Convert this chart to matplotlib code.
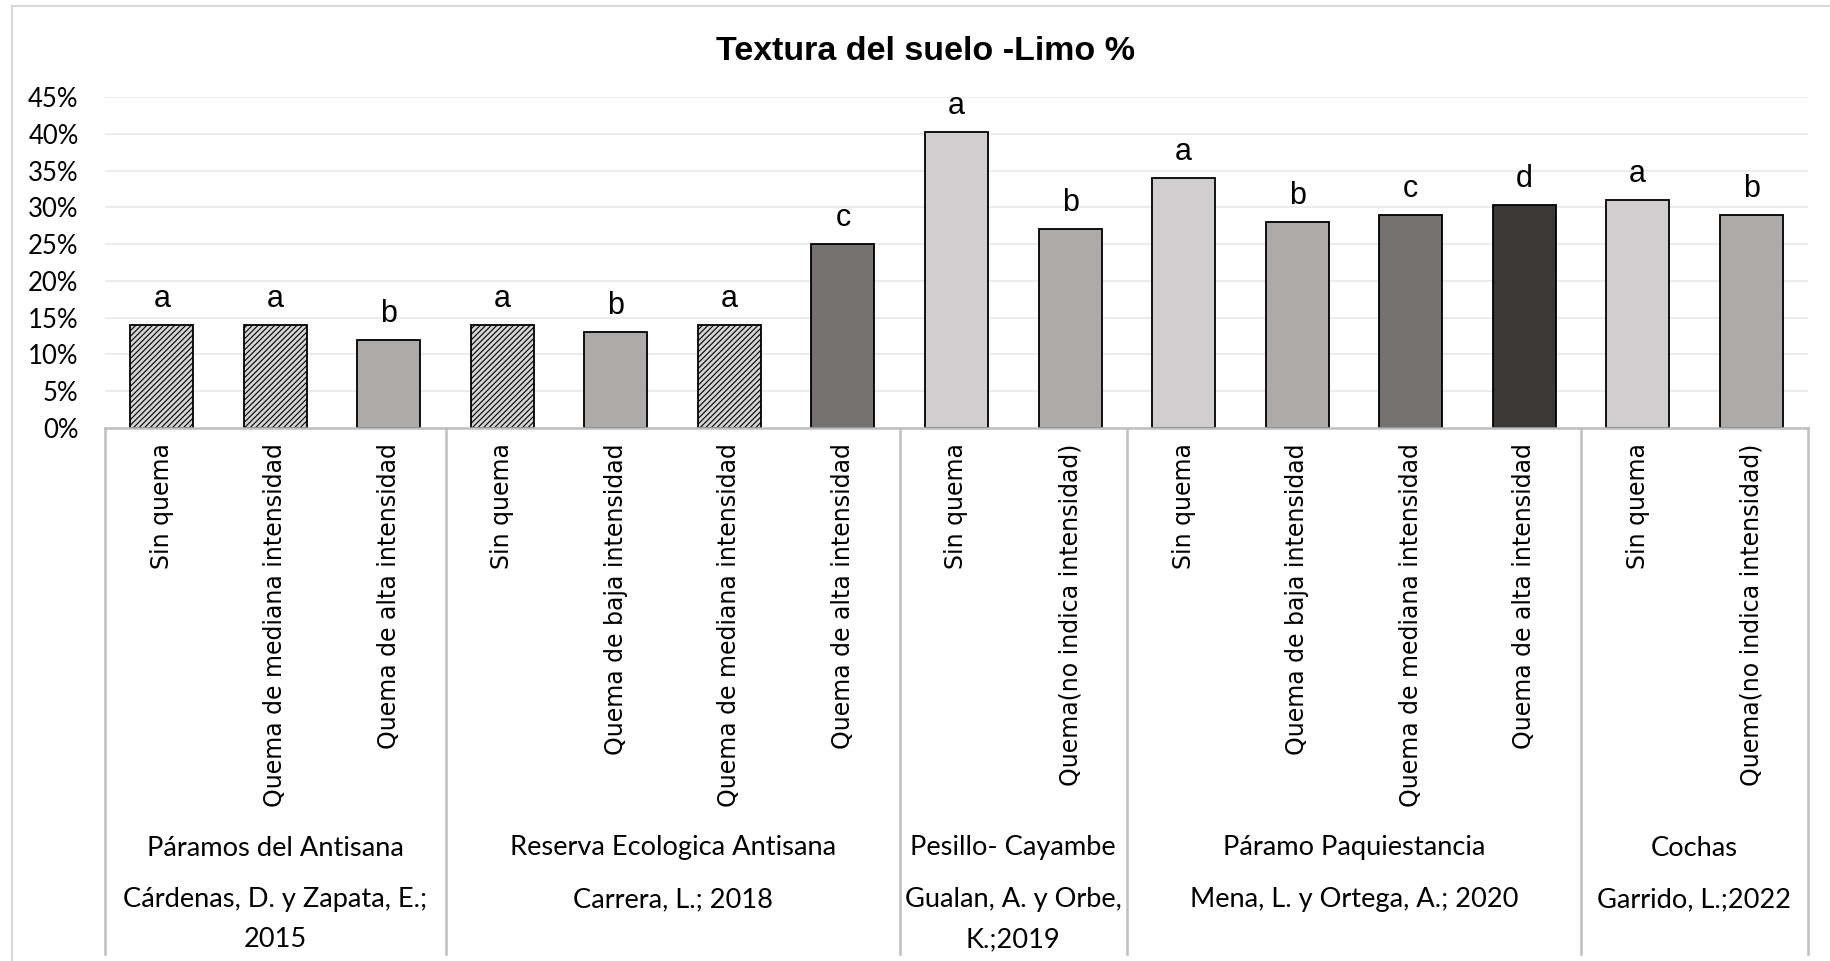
import matplotlib
matplotlib.use("Agg")
import matplotlib.pyplot as plt
import matplotlib.transforms as mtransforms
from matplotlib.lines import Line2D

# data
tratamientos = ["Sin quema", "Quema de mediana intensidad", "Quema de alta intensidad",
                "Sin quema", "Quema de baja intensidad", "Quema de mediana intensidad", "Quema de alta intensidad",
                "Sin quema", "Quema(no indica intensidad)",
                "Sin quema", "Quema de baja intensidad", "Quema de mediana intensidad", "Quema de alta intensidad",
                "Sin quema", "Quema(no indica intensidad)"]
limo = [0.14, 0.14, 0.12,
        0.14, 0.13, 0.14, 0.25,
        0.403, 0.27,
        0.34, 0.28, 0.29, 0.303,
        0.31, 0.29]
letras = ["a", "a", "b", "a", "b", "a", "c", "a", "b", "a", "b", "c", "d", "a", "b"]
colores = ["hatch", "hatch", "#aeaaaa",
           "hatch", "#aeaaaa", "hatch", "#767171",
           "#d0cece", "#aeaaaa",
           "#d0cece", "#aeaaaa", "#767171", "#3b3838",
           "#d0cece", "#aeaaaa"]

sitios = ["Páramos del Antisana", "Reserva Ecologica Antisana", "Pesillo- Cayambe",
          "Páramo Paquiestancia", "Cochas"]
autores = ["Cárdenas, D. y Zapata, E.;\n2015", "Carrera, L.; 2018", "Gualan, A. y Orbe,\nK.;2019",
           "Mena, L. y Ortega, A.; 2020", "Garrido, L.;2022"]
n_por_sitio = [3, 4, 2, 4, 2]

W, H = 1831, 961
plt.rcParams["font.family"] = ["Lato", "DejaVu Sans"]
plt.rcParams["hatch.linewidth"] = 0.8

fig = plt.figure(figsize=(W / 100, H / 100), dpi=100)
ax = fig.add_axes([105 / W, (H - 428) / H, (1808 - 105) / W, (428 - 97) / H])

x = list(range(len(limo)))
for i, (v, c) in enumerate(zip(limo, colores)):
    if c == "hatch":
        ax.bar(i, v, width=0.555, color="#d4d4d4", edgecolor="black", hatch="//////", linewidth=1.3)
    else:
        ax.bar(i, v, width=0.555, color=c, edgecolor="black", linewidth=1.3)

for i, (v, s) in enumerate(zip(limo, letras)):
    ax.annotate(s, (i, v), xytext=(0, 13), textcoords="offset points", ha="center",
                va="baseline", fontsize=22, family="Liberation Sans")

ax.set_xlim(-0.5, len(limo) - 0.5)
ax.set_ylim(0, 0.45)
yt = [k * 0.05 for k in range(10)]
ax.set_yticks(yt, [f"{round(v * 100)}%" for v in yt])
ax.yaxis.grid(True, color="#ececec", linewidth=1.5)
ax.set_axisbelow(True)
ax.set_xticks(x, tratamientos, rotation=90, fontsize=17, family="DejaVu Sans", va="top")
ax.tick_params(axis="x", length=0, pad=11)
ax.tick_params(axis="y", length=0, pad=19, labelsize=18.5)
for side in ["top", "right", "left"]:
    ax.spines[side].set_visible(False)
ax.spines["bottom"].set_color("#bfbfbf")
ax.spines["bottom"].set_linewidth(1.8)

# multi-level category table under the axis
blend = mtransforms.blended_transform_factory(ax.transData, fig.transFigure)
bordes = [-0.5]
for n in n_por_sitio:
    bordes.append(bordes[-1] + n)
for b in bordes:
    ax.plot([b, b], [(H - 428) / H, (H - 954) / H], transform=blend, color="#bfbfbf",
            linewidth=1.8, clip_on=False)
for k in range(len(sitios)):
    xc = (bordes[k] + bordes[k + 1]) / 2
    ax.text(xc, (H - 848) / H, sitios[k], transform=blend, ha="center", va="center", fontsize=19.6)
    ax.text(xc, (H - 887) / H, autores[k], transform=blend, ha="center", va="top", fontsize=19.6,
            linespacing=1.75)

fig.text(925 / W, (H - 51) / H, "Textura del suelo -Limo %", ha="center", va="center",
         fontsize=24.5, fontweight="bold", family="Liberation Sans")

# chart area border (top and left visible)
fig.add_artist(Line2D([12 / W, 1], [(H - 6) / H, (H - 6) / H], transform=fig.transFigure,
                      color="#d9d9d9", linewidth=1.5))
fig.add_artist(Line2D([12 / W, 12 / W], [(H - 6) / H, 0], transform=fig.transFigure,
                      color="#d9d9d9", linewidth=1.5))

fig.savefig("out.png", dpi=100)
